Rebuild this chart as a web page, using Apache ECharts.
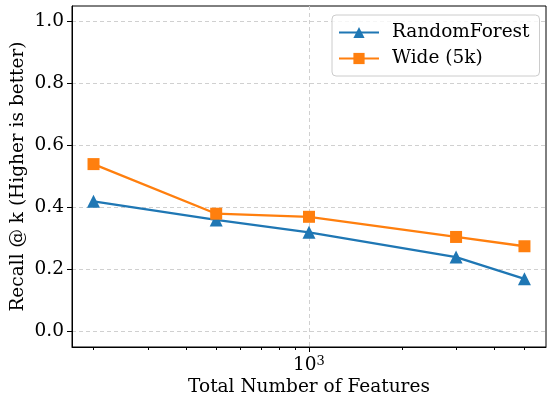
<!DOCTYPE html>
<html><head><meta charset="utf-8">
<script src="https://cdn.jsdelivr.net/npm/echarts@6/dist/echarts.min.js"></script>
<style>html,body{margin:0;padding:0;background:#fff}#c{width:548px;height:399px}</style>
</head><body><div id="c"></div>
<script>
const features = [200, 500, 1000, 3000, 5000];
const randomForest = [0.42, 0.36, 0.32, 0.24, 0.17];
const wide5k = [0.54, 0.38, 0.37, 0.305, 0.275];
const yTicks = [0, 0.2, 0.4, 0.6, 0.8, 1.0];
const xMajorTicks = [1000];
const xMinorTicks = [200, 300, 400, 500, 600, 700, 800, 900, 2000, 3000, 4000, 5000];

const FONT = 'DejaVu Serif';
const FS = 18.5;
const chart = echarts.init(document.getElementById('c'), null, {renderer: 'canvas'});
const gridDash = {color: '#d0d0d0', type: [4, 3], width: 1};
const xMin = 170.3, xMax = 5873;
chart.setOption({
  animation: false,
  backgroundColor: '#fff',
  grid: {left: 72, right: 2, top: 6, bottom: 52, show: true, borderColor: '#000', borderWidth: 1,
    containLabel: false, outerBoundsMode: 'none'},
  xAxis: [{
    type: 'log', logBase: 10, min: xMin, max: xMax,
    name: 'Total Number of Features', nameLocation: 'middle', nameGap: 31, nameMoveOverlap: false,
    nameTextStyle: {fontFamily: FONT, fontSize: FS, color: '#000'},
    axisLine: {show: true, onZero: false, lineStyle: {color: '#000'}},
    axisTick: {show: true, customValues: xMajorTicks, length: 5, lineStyle: {color: '#000'}},
    axisLabel: {customValues: xMajorTicks, margin: 8, fontFamily: FONT, fontSize: FS, color: '#000',
      formatter: v => '{b|10}{s|3}',
      rich: {b: {fontFamily: FONT, fontSize: FS, color: '#000'}, s: {fontFamily: FONT, fontSize: 13, color: '#000', verticalAlign: 'top', padding: [0, 0, 8, 0]}}},
    splitLine: {show: true, lineStyle: gridDash}
  }, {
    type: 'log', logBase: 10, min: xMin, max: xMax, position: 'bottom', gridIndex: 0,
    axisLine: {show: false, onZero: false},
    axisTick: {show: true, customValues: xMinorTicks, length: 3, lineStyle: {color: '#000'}},
    axisLabel: {show: false},
    splitLine: {show: false}
  }],
  yAxis: {
    type: 'value', min: -0.05, max: 1.05,
    name: 'Recall @ k (Higher is better)', nameLocation: 'middle', nameGap: 44, nameMoveOverlap: false,
    nameTextStyle: {fontFamily: FONT, fontSize: FS, color: '#000'},
    axisLine: {show: true, lineStyle: {color: '#000'}},
    axisTick: {show: true, customValues: yTicks, length: 5, lineStyle: {color: '#000'}},
    axisLabel: {customValues: yTicks, margin: 8, fontFamily: FONT, fontSize: FS, color: '#000', formatter: v => v.toFixed(1)},
    splitLine: {show: true, lineStyle: gridDash}
  },
  legend: {
    orient: 'vertical', left: 332, top: 15,
    itemWidth: 40, itemHeight: 14, itemGap: 7,
    padding: [8, 10, 8, 6],
    backgroundColor: 'rgba(255,255,255,0.8)', borderColor: '#cccccc', borderWidth: 1, borderRadius: 4,
    textStyle: {fontFamily: FONT, fontSize: FS, color: '#000', padding: [0, 0, 0, 8]},
    data: ['RandomForest', 'Wide (5k)']
  },
  series: [{
    name: 'RandomForest', type: 'line', xAxisIndex: 0,
    data: features.map((f, i) => [f, randomForest[i]]),
    symbol: 'triangle', symbolSize: 13,
    lineStyle: {color: '#1f77b4', width: 2.3}, itemStyle: {color: '#1f77b4'}
  }, {
    name: 'Wide (5k)', type: 'line', xAxisIndex: 0,
    data: features.map((f, i) => [f, wide5k[i]]),
    symbol: 'rect', symbolSize: 12,
    lineStyle: {color: '#ff7f0e', width: 2.3}, itemStyle: {color: '#ff7f0e'}
  }]
});
</script></body></html>
